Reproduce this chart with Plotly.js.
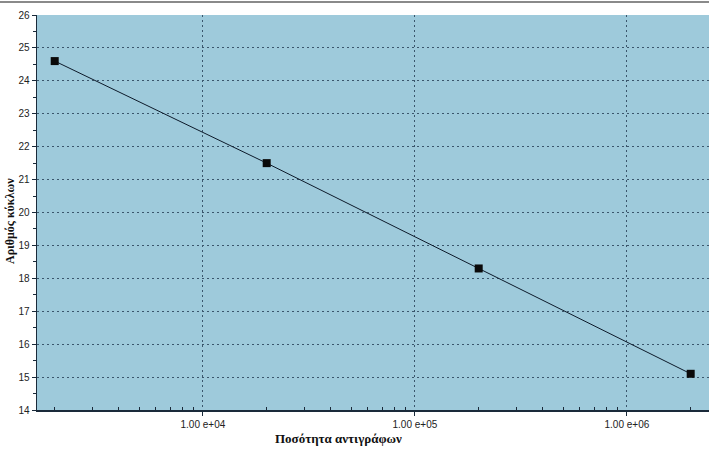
<!DOCTYPE html>
<html>
<head>
<meta charset="utf-8">
<script src="https://cdn.plot.ly/plotly-3.0.1.min.js"></script>
<style>
html,body{margin:0;padding:0;background:#ffffff;}
#chart{width:709px;height:452px;}
</style>
</head>
<body>
<div id="chart"></div>
<script>
const copies = [2000, 20000, 200000, 2000000];
const cycles = [24.6, 21.5, 18.3, 15.1];
const xTickVals = [1e4, 1e5, 1e6];
const xTickText = ['1.00 e+04', '1.00 e+05', '1.00 e+06'];
const xMinorVals = [];
[1e3, 1e4, 1e5, 1e6].forEach(d => { for (let k = 2; k <= 9; k++) xMinorVals.push(d * k); });

const trace = {
  x: copies, y: cycles, type: 'scatter', mode: 'lines+markers',
  line: {color: '#0d1a2a', width: 1},
  marker: {symbol: 'square', size: 8, color: '#0a0a0a'},
  hoverinfo: 'skip'
};

const layout = {
  width: 709, height: 452,
  margin: {l: 37, r: 0, t: 15, b: 42},
  paper_bgcolor: '#ffffff',
  plot_bgcolor: '#9ecadb',
  showlegend: false,
  font: {family: 'Liberation Sans, Arial, sans-serif', size: 10, color: '#222'},
  xaxis: {
    type: 'log', range: [Math.log10(1650), Math.log10(2440000)],
    tickmode: 'array', tickvals: xTickVals, ticktext: xTickText,
    ticks: 'outside', ticklen: 4, tickcolor: '#1a2a3a',
    showline: true, linecolor: '#1a2a3a', linewidth: 1.5,
    showgrid: true, gridcolor: '#3a566c', griddash: '2px,3px', gridwidth: 1,
    zeroline: false,
    minor: {tickmode: 'array', tickvals: xMinorVals, ticks: 'inside', ticklen: 3, tickcolor: '#1a2a3a', showgrid: false},
    tickfont: {family: 'Liberation Sans, Arial, sans-serif', size: 10, color: '#222'}
  },
  yaxis: {
    range: [14, 26], dtick: 1, tick0: 14,
    ticks: 'outside', ticklen: 4, tickcolor: '#1a2a3a',
    showline: true, linecolor: '#1a2a3a', linewidth: 1.5,
    showgrid: true, gridcolor: '#3a566c', griddash: '2px,3px', gridwidth: 1,
    zeroline: false,
    minor: {dtick: 0.5, ticks: 'outside', ticklen: 3, tickcolor: '#1a2a3a', showgrid: false},
    tickfont: {family: 'Liberation Sans, Arial, sans-serif', size: 10, color: '#222'}
  },
  annotations: [{
    text: '<b>Ποσότητα αντιγράφων</b>', xref: 'paper', yref: 'paper',
    x: (338 - 37) / 672, y: 0, yshift: -19, xanchor: 'center', yanchor: 'top', showarrow: false,
    font: {family: 'Liberation Serif, Times New Roman, serif', size: 13, color: '#111'}
  }, {
    text: '<b>Αριθμός κύκλων</b>', xref: 'paper', yref: 'paper', textangle: -90,
    x: -27 / 672, y: (410 - 221) / 395, xanchor: 'center', yanchor: 'middle', showarrow: false,
    font: {family: 'Liberation Serif, Times New Roman, serif', size: 12, color: '#111'}
  }],
  shapes: [{
    type: 'line', xref: 'paper', yref: 'paper', x0: -37/672, x1: 1, y0: 1 + 13/395, y1: 1 + 13/395,
    line: {color: '#8a8a8a', width: 2}
  }]
};

Plotly.newPlot('chart', [trace], layout, {displayModeBar: false, staticPlot: true});
</script>
</body>
</html>
